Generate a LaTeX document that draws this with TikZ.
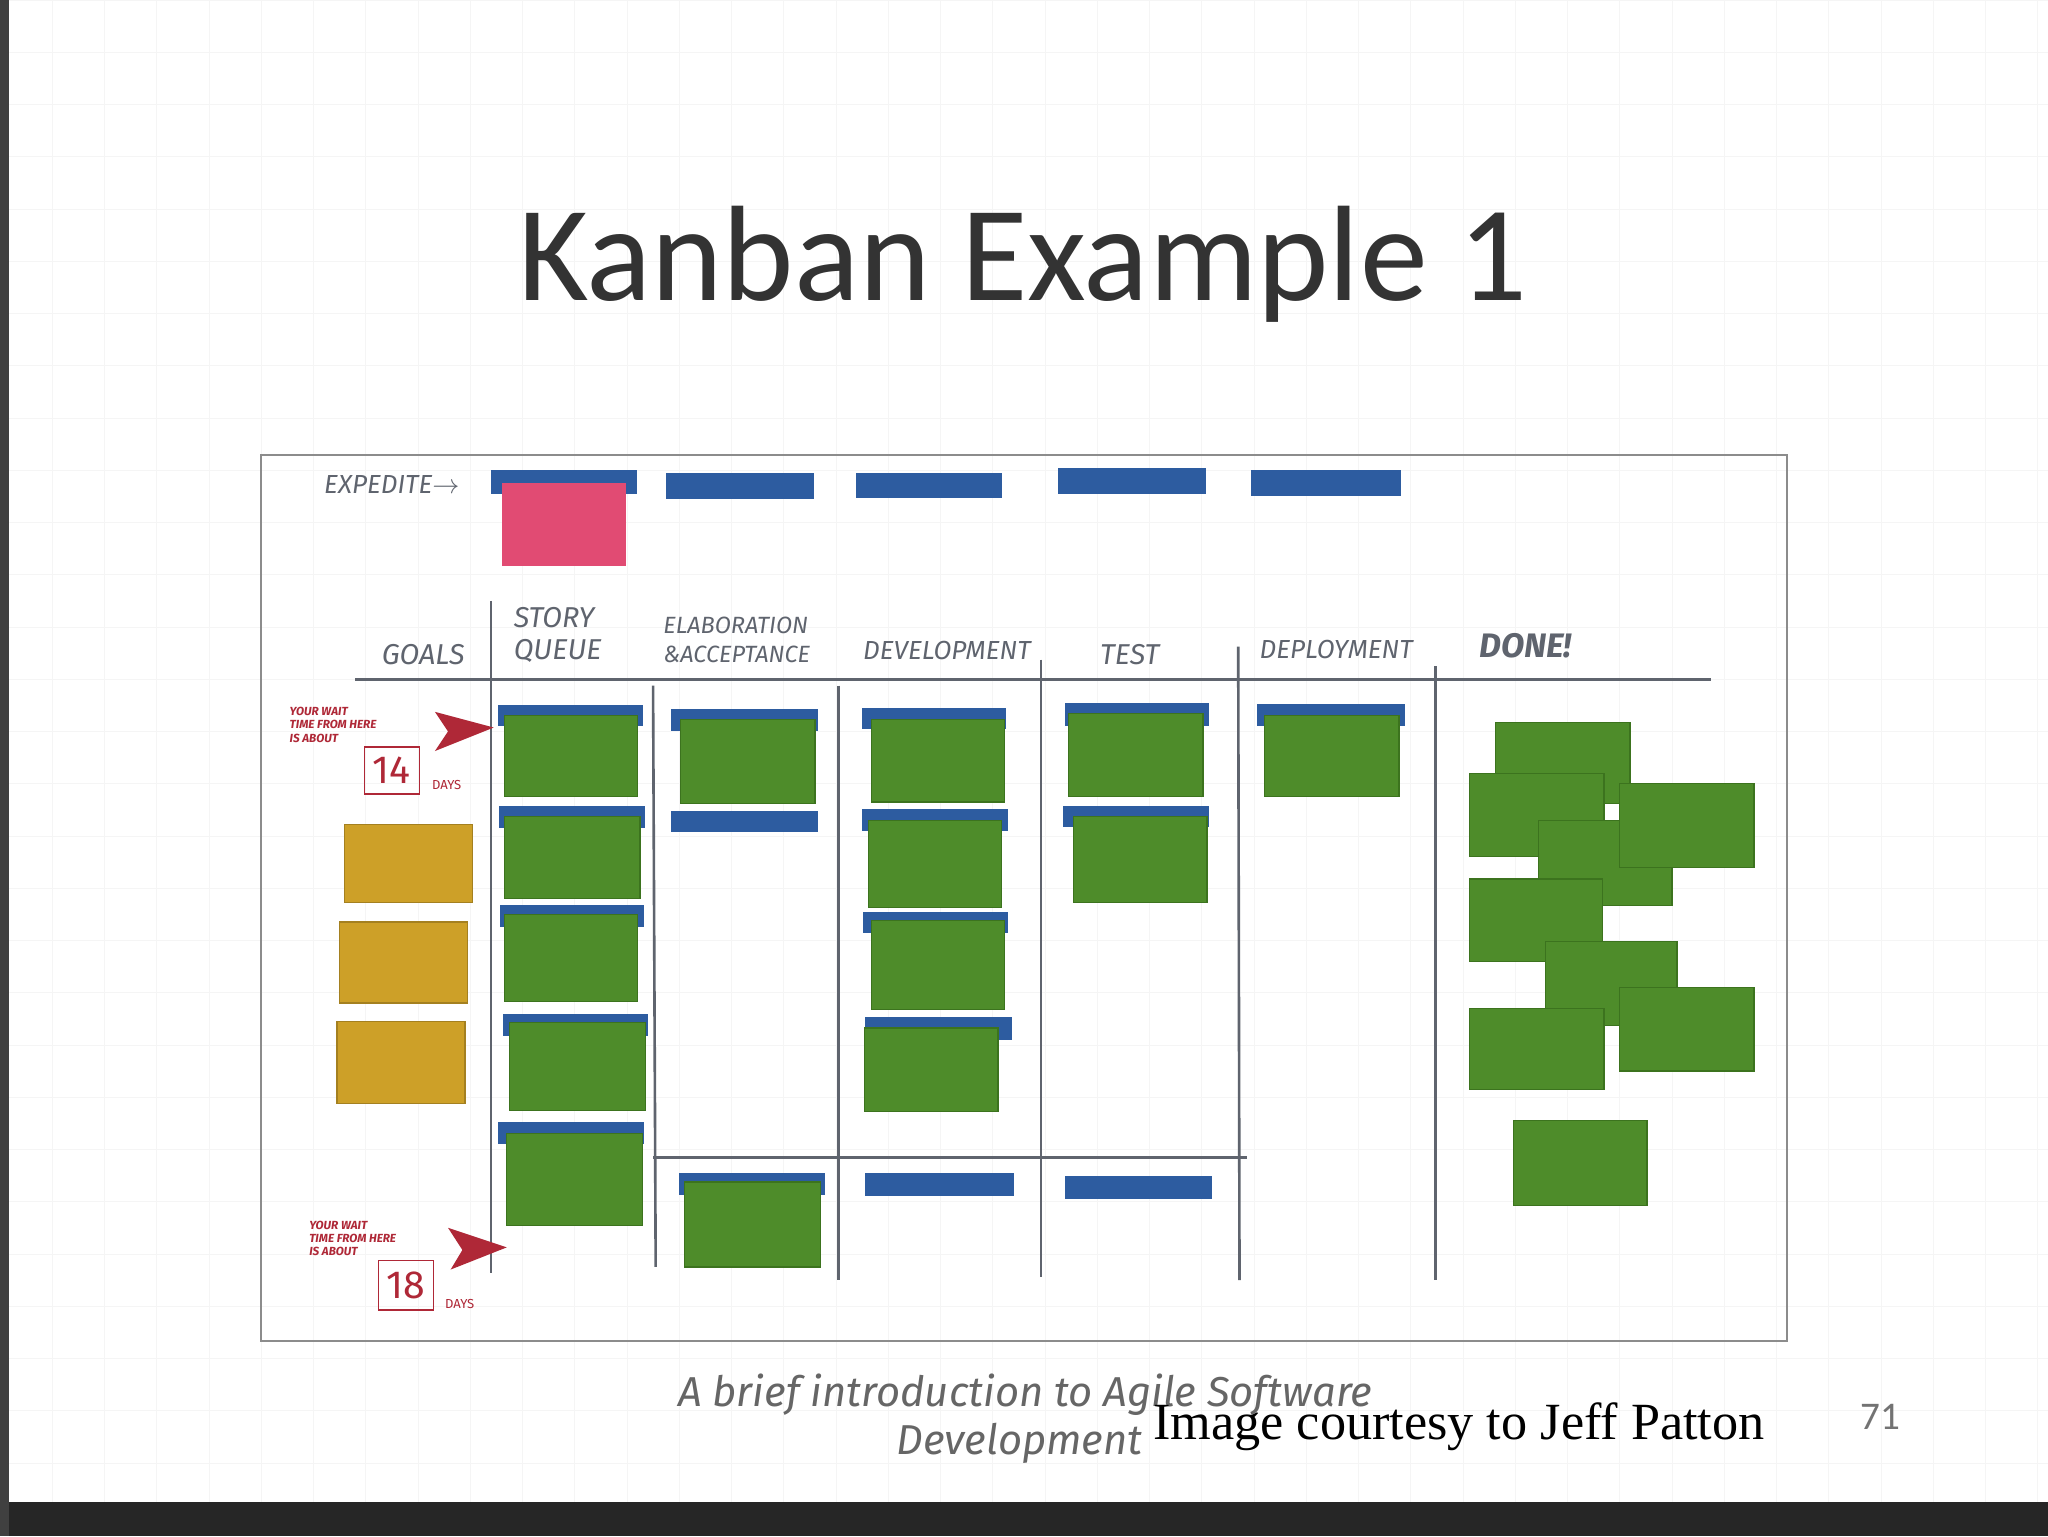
\documentclass[tikz,border=0pt]{standalone}
\usepackage{fontspec}
\setmainfont{Carlito}
\newfontfamily\hand{Fira Sans}
\newfontfamily\serifft{Liberation Serif}
\definecolor{gr}{RGB}{78,140,42}
\definecolor{grd}{RGB}{60,115,30}
\definecolor{bl}{RGB}{45,92,160}
\definecolor{yl}{RGB}{205,160,40}
\definecolor{pk}{RGB}{225,75,115}
\definecolor{rd}{RGB}{175,40,55}
\definecolor{ln}{RGB}{95,100,110}
\tikzset{
 gbox/.style={fill=gr,draw=grd,line width=1pt},
 bbar/.style={fill=bl},
 ybox/.style={fill=yl,draw=yl!80!black,line width=1pt},
 lane/.style={draw=ln,line width=2pt},
 lbl/.style={text=ln,font=\hand\fontsize{22}{24}\selectfont\itshape,inner sep=0pt},
 rlbl/.style={text=rd,font=\hand\fontsize{9}{10}\selectfont\bfseries\itshape,inner sep=0pt,align=left},
}
\newcommand\gb[4]{\draw[gbox] (#1,#2) rectangle (#3,#4);}
\newcommand\bb[4]{\fill[bbar] (#1,#2) rectangle (#3,#4);}
\begin{document}
\begin{tikzpicture}[x=1pt,y=-1pt]
\useasboundingbox (0,0) rectangle (1568,1176);
\fill[white] (0,0) rectangle (1568,1176);
% faint grid
\foreach \i in {0,40,...,1560} \draw[black!4] (\i,0) -- (\i,1150);
\foreach \j in {0,40,...,1140} \draw[black!4] (0,\j) -- (1568,\j);
\fill[black!85] (0,1150) rectangle (1568,1176);
\fill[black!75] (0,0) rectangle (7,1176);
% title
\node (title) at (783,202) {\fontsize{104}{114}\selectfont\color{black!80}Kanban Example 1};
% board
\draw[black!45,line width=1.5pt] (200,348) rectangle (1368,1027);
% expedite
\node[lbl,font=\hand\fontsize{20}{22}\selectfont\itshape] (exp) at (300,371) {EXPEDITE$\rightarrow$};
\bb{376}{360}{488}{378}\bb{510}{362}{623}{382}\bb{655}{362}{767}{381}\bb{810}{358}{923}{378}\bb{958}{360}{1073}{380}
\fill[pk] (384,370) rectangle (479,433);
% headers
\node[lbl] (goals) at (324,501) {GOALS};
\node[lbl,align=left] (story) at (427,486) {STORY\\QUEUE};
\node[lbl,align=left,font=\hand\fontsize{18}{22}\selectfont\itshape] (elab) at (564,490) {ELABORATION\\\&ACCEPTANCE};
\node[lbl,font=\hand\fontsize{20}{22}\selectfont\itshape] (dev) at (725,498) {DEVELOPMENT};
\node[lbl] (test) at (865,501) {TEST};
\node[lbl,font=\hand\fontsize{20}{22}\selectfont\itshape] (depl) at (1023,497) {DEPLOYMENT};
\node[lbl,font=\hand\fontsize{26}{28}\selectfont\itshape\bfseries] (done) at (1168,494) {DONE!};
% lanes
\draw[lane] (272,520) -- (1310,520);
\draw[lane] (376,460) -- (376,975);
\draw[lane] (500,525) -- (502,970);
\draw[lane] (642,525) -- (642,980);
\draw[lane] (797,505) -- (797,978);
\draw[lane] (948,495) -- (949,980);
\draw[lane] (1099,510) -- (1099,980);
\draw[lane] (500,886) -- (955,886);
% story queue
\bb{381}{540}{492}{556}\gb{386}{548}{488}{610}
\bb{382}{617}{494}{634}\gb{386}{625}{490}{688}
\bb{383}{693}{493}{710}\gb{386}{700}{488}{767}
\bb{385}{776}{496}{793}\gb{390}{783}{494}{850}
\bb{381}{859}{493}{876}\gb{388}{868}{492}{938}
% elaboration
\bb{514}{543}{626}{560}\gb{521}{551}{624}{615}
\bb{514}{621}{626}{637}
\bb{520}{898}{632}{915}\gb{524}{905}{628}{970}
% development
\bb{660}{542}{770}{558}\gb{667}{551}{769}{614}
\bb{660}{619}{772}{636}\gb{665}{628}{767}{695}
\bb{661}{698}{772}{714}\gb{667}{705}{769}{773}
\bb{662}{779}{775}{796}\gb{662}{787}{764}{851}
\bb{662}{898}{776}{916}
% test
\bb{815}{538}{926}{556}\gb{818}{546}{921}{610}
\bb{814}{617}{926}{633}\gb{822}{625}{924}{691}
\bb{815}{900}{928}{918}
% deployment
\bb{962}{539}{1076}{556}\gb{968}{548}{1071}{610}
% done
\gb{1145}{553}{1248}{615}\gb{1125}{592}{1228}{656}\gb{1178}{628}{1280}{693}
\gb{1240}{600}{1343}{664}\gb{1125}{673}{1227}{736}\gb{1183}{721}{1284}{785}
\gb{1240}{756}{1343}{820}\gb{1125}{772}{1228}{834}\gb{1159}{858}{1261}{923}
% goals
\draw[ybox] (264,631) rectangle (362,691);
\draw[ybox] (260,706) rectangle (358,768);
\draw[ybox] (258,782) rectangle (356,845);
% wait annotations
\node[rlbl] (w1) at (255,555) {YOUR WAIT\\TIME FROM HERE\\IS ABOUT};
\node[draw=rd,line width=1pt,text=rd,minimum width=42pt,minimum height=36pt,inner sep=0pt,font=\hand\fontsize{30}{30}\selectfont] (n14) at (300,590) {14};
\node[rlbl,font=\hand\fontsize{10}{10}\selectfont] (d1) at (342,601) {DAYS};
\fill[rd] (333,545) -- (378,557) -- (333,575) -- (343,560) -- cycle;
\node[rlbl] (w2) at (270,948) {YOUR WAIT\\TIME FROM HERE\\IS ABOUT};
\node[draw=rd,line width=1pt,text=rd,minimum width=42pt,minimum height=38pt,inner sep=0pt,font=\hand\fontsize{30}{30}\selectfont] (n18) at (311,984) {18};
\node[rlbl,font=\hand\fontsize{10}{10}\selectfont] (d2) at (352,998) {DAYS};
\fill[rd] (343,940) -- (388,955) -- (345,972) -- (354,957) -- cycle;
% footer
\node[text=black!60,font=\hand\fontsize{32}{36}\selectfont\itshape,inner sep=0pt] (f1) at (785,1068) {A brief introduction to Agile Software};
\node[text=black!60,font=\hand\fontsize{32}{36}\selectfont\itshape,inner sep=0pt,anchor=east] (f2) at (875,1105) {Development};
\node[font=\serifft\fontsize{40}{42}\selectfont,inner sep=0pt] (f3) at (1117,1092) {Image courtesy to Jeff Patton};
\node[text=black!55,font=\fontsize{30}{32}\selectfont,inner sep=0pt] (pg) at (1440,1085) {71};
\end{tikzpicture}
\end{document}
